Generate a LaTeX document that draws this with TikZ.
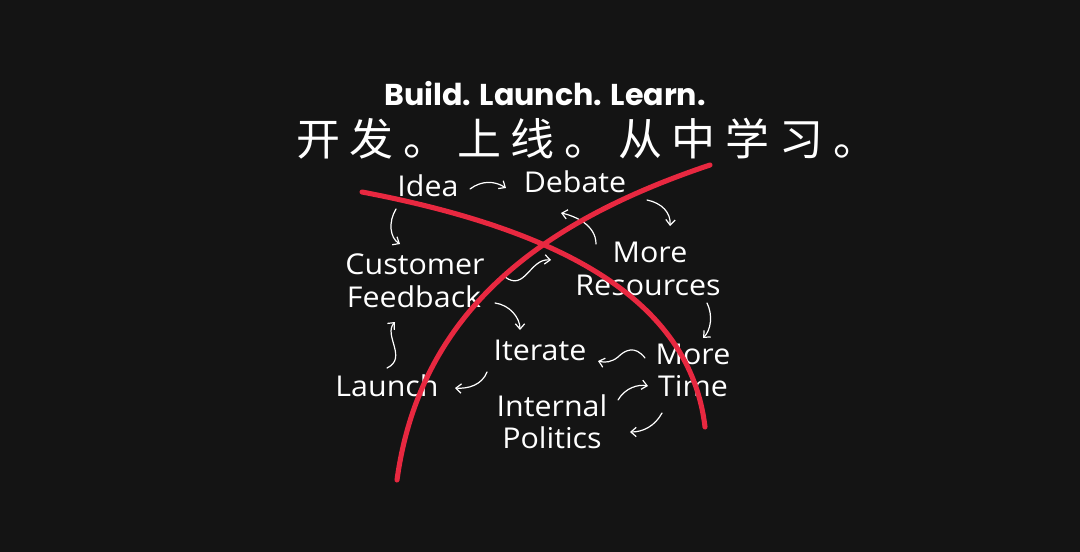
\documentclass[tikz,border=0pt]{standalone}
\usepackage{fontspec}
\usetikzlibrary{arrows.meta}
\newfontfamily\titlefont{Poppins}
\newfontfamily\labelfont[FakeStretch=1.06]{Open Sans}
\newfontfamily\cjkfont[LetterSpace=22]{Noto Sans CJK SC}
\definecolor{bg}{RGB}{20,20,20}
\definecolor{crossred}{RGB}{232,40,64}
\tikzset{
  lbl/.style={text=white, font=\labelfont\fontsize{21.5pt}{23pt}\selectfont, anchor=base, inner sep=0pt},
  arr/.style={draw=white, line width=0.9pt, line cap=round, -{Straight Barb[length=4pt,width=7pt]}},
  cross/.style={draw=crossred, line width=3.8pt, line cap=round}
}
\begin{document}
\begin{tikzpicture}[x=0.75pt,y=-0.75pt]
\fill[bg] (0,0) rectangle (1080,552);
\useasboundingbox (0,0) rectangle (1080,552);

\node[text=white, font=\titlefont\bfseries\fontsize{22.6pt}{24pt}\selectfont, anchor=base, inner sep=0pt] (title) at (545,106) {Build. Launch. Learn.};
\node[text=white, font=\cjkfont\fontsize{33pt}{36pt}\selectfont, anchor=base west, inner sep=0pt] (cn) at (296,156) {开发。上线。从中学习。};

\node[lbl] (idea) at (428,197) {Idea};
\node[lbl] (debate) at (575,193) {Debate};
\node[lbl] (more1) at (650,262) {More};
\node[lbl] (res) at (648,295) {Resources};
\node[lbl] (cust) at (415,274) {Customer};
\node[lbl] (feed) at (414,307) {Feedback};
\node[lbl] (iter) at (540,360) {Iterate};
\node[lbl] (more2) at (693,364) {More};
\node[lbl] (time) at (693,396) {Time};
\node[lbl] (launch) at (387,396) {Launch};
\node[lbl] (intern) at (552,416) {Internal};
\node[lbl] (polit) at (552,448) {Politics};

% arrows
\draw[arr] (470,189) .. controls (482,180) and (495,181) .. (506,188);
\draw[arr] (396,209) .. controls (388,222) and (390,238) .. (400,244);
\draw[arr] (647,200) .. controls (662,203) and (671,213) .. (670,226);
\draw[arr] (596,244) .. controls (596,225) and (575,216) .. (561,213);
\draw[arr] (505,277) .. controls (525,292) and (530,258) .. (551,260);
\draw[arr] (495,303) .. controls (510,305) and (520,318) .. (520,330);
\draw[arr] (387,368) .. controls (408,358) and (383,335) .. (395,322);
\draw[arr] (707,303) .. controls (713,315) and (711,330) .. (703,338);
\draw[arr] (645,358) .. controls (635,345) and (625,350) .. (618,357) .. controls (612,362) and (605,363) .. (598,361);
\draw[arr] (487,372) .. controls (482,385) and (468,389) .. (455,388);
\draw[arr] (618,400) .. controls (625,388) and (638,384) .. (648,386);
\draw[arr] (662,413) .. controls (655,426) and (643,432) .. (630,432);

% red cross
\draw[cross] (362,192) .. controls (562,230) and (690,300) .. (705,427);
\draw[cross] (397,480) .. controls (420,312) and (540,222) .. (710,165);
\end{tikzpicture}
\end{document}
